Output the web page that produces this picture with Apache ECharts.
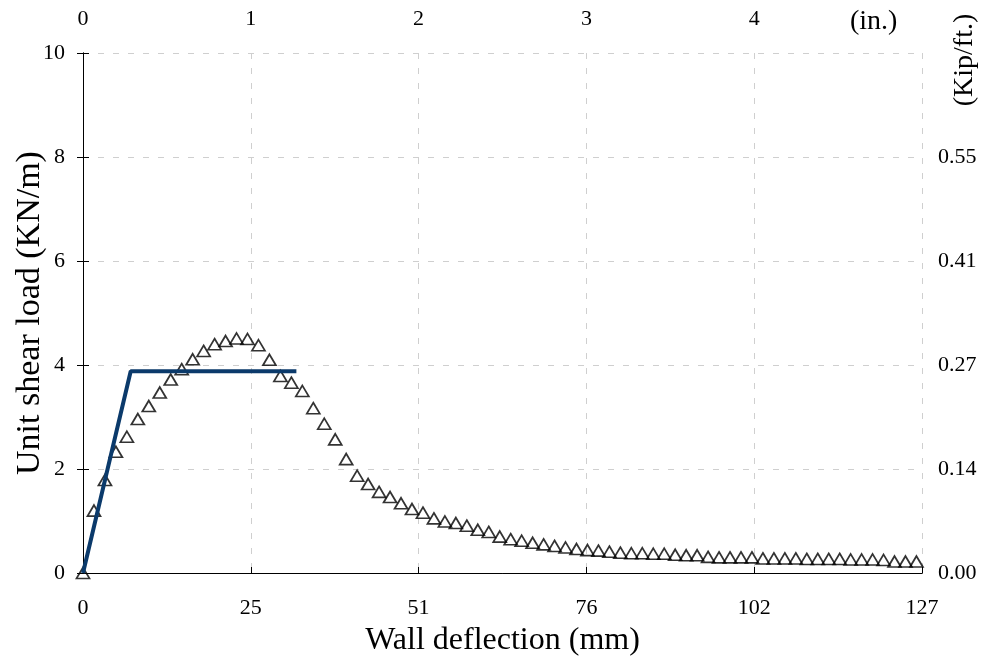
<!DOCTYPE html>
<html>
<head>
<meta charset="utf-8">
<script src="https://cdn.jsdelivr.net/npm/echarts@6/dist/echarts.min.js"></script>
<style>html,body{margin:0;padding:0;background:#fff;}#c{width:988px;height:663px;}</style>
</head>
<body>
<div id="c"></div>
<script>
// Test data: wall deflection (mm) vs unit shear load (kN/m)
var testX = [0,1.66,3.32,4.98,6.64,8.3,9.96,11.62,13.28,14.94,16.6,18.26,19.92,21.58,23.24,24.9,26.56,28.22,29.88,31.54,33.2,34.86,36.52,38.18,39.84,41.5,43.16,44.82,46.48,48.14,49.8,51.46,53.12,54.78,56.44,58.1,59.76,61.42,63.08,64.74,66.4,68.06,69.72,71.38,73.04,74.7,76.36,78.02,79.68,81.34,83,84.66,86.32,87.98,89.64,91.3,92.96,94.62,96.28,97.94,99.6,101.26,102.92,104.58,106.24,107.9,109.56,111.22,112.88,114.54,116.2,117.86,119.52,121.18,122.84,124.5,126.16];
var testY = [0,1.20,1.79,2.33,2.62,2.96,3.21,3.47,3.72,3.92,4.11,4.27,4.40,4.46,4.51,4.50,4.38,4.10,3.79,3.66,3.50,3.17,2.87,2.57,2.19,1.87,1.71,1.56,1.46,1.34,1.23,1.16,1.05,0.99,0.96,0.91,0.83,0.79,0.70,0.65,0.62,0.58,0.55,0.52,0.49,0.46,0.44,0.43,0.41,0.39,0.38,0.38,0.37,0.37,0.35,0.34,0.34,0.31,0.30,0.30,0.30,0.30,0.28,0.28,0.28,0.28,0.27,0.27,0.27,0.27,0.26,0.26,0.26,0.25,0.22,0.22,0.22];
// Bilinear model
var modelX = [0, 7.22, 32.3];
var modelY = [0, 3.88, 3.88];
// Tick labels
var bottomTickLabels = ['0','25','51','76','102','127'];
var topTickLabels = ['0','1','2','3','4',''];
var leftTickLabels = ['0','2','4','6','8','10'];
var rightTickLabels = ['0.00','0.14','0.27','0.41','0.55',''];

var FONT = 'Liberation Serif';
var chart = echarts.init(document.getElementById('c'), null, {renderer:'canvas'});
function zip(a,b){ return a.map(function(v,i){return [v,b[i]];}); }
var axisLineStyle = {show:true, lineStyle:{color:'#000', width:1}};
var labelBase = {fontFamily:FONT, fontSize:22, color:'#000'};
var dashed = {show:true, lineStyle:{color:'#cfcfcf', type:[6,9], width:1}};
chart.setOption({
  animation:false,
  backgroundColor:'#fff',
  grid:{left:83, right:66, top:53, bottom:90, containLabel:false, outerBoundsMode:'none'},
  xAxis:[{
    type:'value', position:'bottom', min:0, max:127, interval:25.4,
    axisLine:axisLineStyle, axisTick:{show:true, inside:true, length:6, lineStyle:{color:'#000'}},
    axisLabel:Object.assign({margin:24, formatter:function(v){return bottomTickLabels[Math.round(v/25.4)];}}, labelBase),
    splitLine:dashed,
    name:'Wall deflection (mm)', nameLocation:'middle', nameGap:52, nameMoveOverlap:false,
    nameTextStyle:{fontFamily:FONT, fontSize:32, color:'#000'}
  },{
    type:'value', position:'top', min:0, max:127, interval:25.4,
    axisLine:axisLineStyle, axisTick:{show:false},
    axisLabel:Object.assign({margin:23, formatter:function(v){return topTickLabels[Math.round(v/25.4)];}}, labelBase),
    splitLine:{show:false}
  }],
  yAxis:[{
    type:'value', position:'left', min:0, max:10, interval:2,
    axisLine:axisLineStyle, axisTick:{show:true, inside:true, length:6, lineStyle:{color:'#000'}},
    axisLabel:Object.assign({margin:18, formatter:function(v){return leftTickLabels[Math.round(v/2)];}}, labelBase),
    splitLine:dashed,
    name:'Unit shear load (KN/m)', nameLocation:'middle', nameGap:36, nameMoveOverlap:false,
    nameTextStyle:{fontFamily:FONT, fontSize:34, color:'#000'}
  },{
    type:'value', position:'right', min:0, max:10, interval:2,
    axisLine:axisLineStyle, axisTick:{show:true, inside:true, length:6, lineStyle:{color:'#000'}},
    axisLabel:Object.assign({margin:16, formatter:function(v){return rightTickLabels[Math.round(v/2)];}}, labelBase),
    splitLine:{show:false}
  }],
  graphic:[
    {type:'text', left:850, top:8, style:{text:'(in.)', fontFamily:FONT, fontSize:28, fill:'#000'}},
    {type:'text', x:965, y:60, rotation:Math.PI/2, style:{text:'(Kip/ft.)', fontFamily:FONT, fontSize:28, fill:'#000', align:'center', verticalAlign:'middle'}}
  ],
  series:[{
    type:'scatter', xAxisIndex:0, yAxisIndex:0, data:zip(testX,testY),
    symbol:'triangle', symbolSize:[13,11],
    itemStyle:{color:'rgba(255,255,255,0)', borderColor:'#000', borderWidth:1.7},
    z:2
  },{
    type:'line', xAxisIndex:0, yAxisIndex:0, data:zip(modelX,modelY),
    symbol:'none', lineStyle:{color:'#0b3a6b', width:4}, z:3
  }]
});
</script>
</body>
</html>
